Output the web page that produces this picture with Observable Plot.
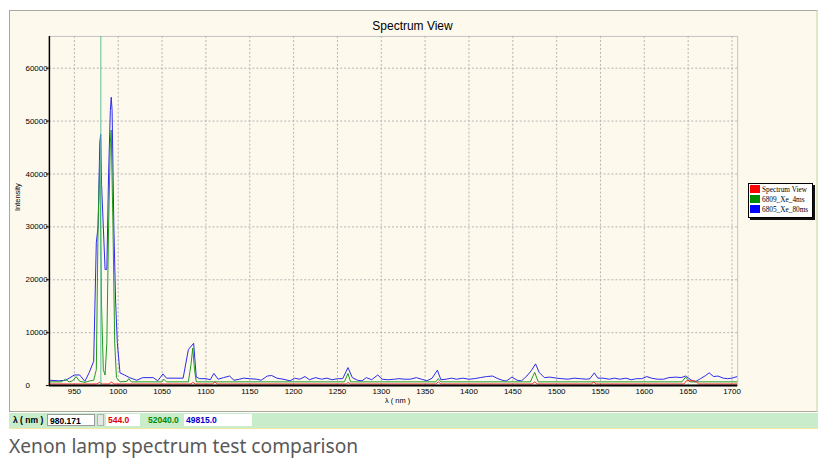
<!DOCTYPE html>
<html><head><meta charset="utf-8">
<script src="https://cdn.jsdelivr.net/npm/d3@7"></script>
<script src="https://cdn.jsdelivr.net/npm/@observablehq/plot@0.6"></script>
<style>
html,body{margin:0;padding:0;background:#fff;width:837px;height:470px;overflow:hidden;}
#frame{position:absolute;left:9px;top:10px;width:809px;height:402px;background:#fdf9ed;border:1px solid #a8a89c;border-right:2px solid #dde8c4;box-sizing:border-box;}
#chart{position:absolute;left:-1px;top:-1px;}
#legend{position:absolute;left:748px;top:183px;width:63px;height:33px;background:#fff;border:1px solid #000;box-shadow:2px 2px 0 #111;font:7.3px "Liberation Serif",serif;color:#000;}
#legend .row{position:absolute;left:1px;height:9px;line-height:9px;white-space:nowrap;}
#legend .sw{display:inline-block;width:10px;height:8px;vertical-align:top;margin-right:2px;}
#status{position:absolute;left:9px;top:413px;width:809px;height:15px;background:#c9eccb;border-bottom:1px solid #f3e7a4;font:bold 8.5px "Liberation Sans",Arial,sans-serif;}
#status div{position:absolute;top:1px;height:12px;line-height:12px;box-sizing:border-box;white-space:nowrap;}
#caption{position:absolute;left:9px;top:432px;font:19.2px "Noto Sans","Open Sans",sans-serif;color:#595959;white-space:nowrap;}
</style></head>
<body>
<div id="frame"><div id="chart"></div></div>
<div id="legend"></div>
<div id="status"></div>
<div id="caption"></div>
<script>
// ---- data ----
const chartTitle = "Spectrum View";
const yLabel = "Intensity";
const xLabel = "λ ( nm )";
const caption = "Xenon lamp spectrum test comparison";
const seriesNames = ["Spectrum View", "6809_Xe_4ms", "6805_Xe_80ms"];
const seriesColors = ["#ff0000", "#008c00", "#0000ff"];
const xTicks = [950,1000,1050,1100,1150,1200,1250,1300,1350,1400,1450,1500,1550,1600,1650,1700];
const yTicks = [0,10000,20000,30000,40000,50000,60000];
const cursorNm = 980.171;
const cursorValues = ["544.0", "52040.0", "49815.0"];

const blueNm = [922,932,940,945,950,956,962,967,972,975,977,979,980,981,983,985,987,989,991,992,993,995,997,999,1002,1007,1013,1021,1028,1040,1045,1051,1055,1074,1080,1086,1089,1093,1100,1105,1109,1114,1120,1127,1132,1138,1143,1150,1158,1163,1170,1175,1181,1188,1196,1201,1207,1213,1218,1225,1232,1238,1244,1250,1256,1262,1267,1273,1278,1283,1289,1296,1301,1308,1315,1320,1327,1333,1340,1346,1352,1358,1364,1368,1374,1380,1386,1393,1400,1406,1413,1420,1427,1433,1440,1443,1449,1455,1460,1466,1471,1476,1480,1486,1492,1500,1506,1513,1520,1527,1534,1538,1543,1547,1553,1560,1566,1572,1579,1585,1591,1597,1603,1608,1615,1622,1628,1636,1642,1647,1653,1658,1664,1670,1674,1679,1684,1690,1695,1700,1706];
const blueVal = [1000,900,1000,1500,2000,2000,800,2500,4600,27000,30000,46000,47500,38000,30000,21900,22000,40000,52000,54500,52000,30000,16000,8000,2400,2000,1500,1000,1500,1500,900,2200,1400,1400,6800,8000,1600,1300,1300,1100,2300,1200,1500,1800,1000,1200,1400,1300,1200,1000,1800,1900,1400,1200,900,1400,1200,1700,1100,1500,1200,1400,1100,1300,1300,3400,1500,1000,900,1500,1100,2000,1200,1100,1200,1300,1200,1200,1500,1200,900,1400,2900,1100,1200,1400,1200,1400,1200,1300,1500,1700,1800,1300,900,900,1600,1000,900,1800,2800,4100,2500,1500,1600,1400,1300,1200,1400,1300,1200,1300,2400,1400,1400,1200,1400,1200,1400,1100,1300,1300,1700,1400,1200,1200,1500,1600,1500,1800,1100,700,1300,1900,2400,1700,1800,1400,1300,1400,1700];

const greenNm = [922,935,940,944,948,952,956,962,968,972,975,977,979,981,983,985,987,989,991,992,994,996,998,1002,1010,1012,1015,1050,1052,1055,1080,1083,1085,1087,1089,1258,1262,1265,1362,1365,1368,1470,1475,1479,1643,1647,1652,1706];
const greenVal = [700,700,1200,700,900,1700,800,600,900,1000,3000,30000,42500,15000,3000,2000,8000,30000,46000,48300,30000,8000,1500,700,800,1300,700,700,1200,700,700,4000,7100,3000,700,700,2300,700,700,1300,700,700,2500,700,700,1600,700,700];

const redNm = [922,975,979,982,990,992,995,1083,1085,1088,1108,1110,1113,1260,1262,1265,1362,1365,1368,1472,1475,1478,1540,1542,1545,1645,1648,1658,1662,1706];
const redVal = [300,300,600,300,300,700,300,300,600,300,300,700,300,300,600,300,300,700,300,300,700,300,300,700,300,300,900,900,300,300];

// ---- build ----
const toRows = (nm, v) => nm.map((x, i) => ({nm: x, v: v[i]}));
const red = toRows(redNm, redVal), green = toRows(greenNm, greenVal), blue = toRows(blueNm, blueVal);
const xDom = [921.5, 1706.5];
const font = '"Liberation Sans", Arial, sans-serif';

const chart = Plot.plot({
  width: 809, height: 402,
  marginLeft: 40, marginRight: 79, marginTop: 26, marginBottom: 26,
  x: {domain: xDom},
  y: {domain: [0, 66000]},
  style: {background: "transparent", fontFamily: font, fontSize: "8px", color: "#000", overflow: "visible"},
  marks: [
    Plot.frame({stroke: "#c4c4c4"}),
    Plot.gridX(xTicks, {stroke: "#b4b4b4", strokeOpacity: 1, strokeDasharray: "2,2"}),
    Plot.gridY(yTicks, {stroke: "#b4b4b4", strokeOpacity: 1, strokeDasharray: "2,2"}),
    Plot.line(blue, {x: "nm", y: "v", stroke: "#2a2ae8", strokeWidth: 1, clip: true}),
    Plot.line(green, {x: "nm", y: "v", stroke: "#1f9a1f", strokeWidth: 1, clip: true}),
    Plot.line(red, {x: "nm", y: "v", stroke: "#ff2a2a", strokeWidth: 1, clip: true}),
    Plot.ruleX([cursorNm], {stroke: "#5cbf9c", strokeWidth: 1}),
    Plot.ruleX([xDom[0]], {stroke: "#000", strokeWidth: 1.5}),
    Plot.ruleY([0], {stroke: "#000", strokeWidth: 2}),
    Plot.axisY(yTicks, {tickSize: 3, tickFormat: () => "", label: null, stroke: "#000"}),
    Plot.text(yTicks, {y: d => d, text: d => String(d), frameAnchor: "left", dx: -24, textAnchor: "start", fontSize: 8, fill: "#000"}),
    Plot.axisX(xTicks, {tickSize: 1, tickPadding: 2, tickFormat: d => String(d), label: null, fontSize: 8, stroke: "#000", fill: "#000"}),
    Plot.text([chartTitle], {frameAnchor: "top", dy: -15, dx: 19, fontSize: 12, fill: "#000"}),
    Plot.text([yLabel], {frameAnchor: "left", dx: -32, rotate: -90, fontSize: 7.5, fill: "#000"}),
    Plot.text([xLabel], {frameAnchor: "bottom", dy: 17, dx: 4, fontSize: 7.5, fill: "#000"})
  ]
});
document.getElementById("chart").appendChild(chart);

// legend
const lg = document.getElementById("legend");
seriesNames.forEach((n, i) => {
  const r = document.createElement("div");
  r.className = "row";
  r.style.top = (1 + i * 10) + "px";
  r.innerHTML = `<span class="sw" style="background:${seriesColors[i]}"></span>${n}`;
  lg.appendChild(r);
});

// status bar
const st = document.getElementById("status");
const add = (left, width, text, style) => {
  const d = document.createElement("div");
  d.style.left = left + "px"; d.style.width = width + "px";
  d.textContent = text;
  Object.assign(d.style, style || {});
  st.appendChild(d);
};
add(4, 32, "λ ( nm )", {color: "#000"});
add(38, 48, String(cursorNm), {background: "#fff", border: "1px solid #9a9a9a", paddingLeft: "2px", color: "#000"});
add(88, 7, "", {background: "#e8e8e8", border: "1px solid #b0b0b0"});
add(97, 34, cursorValues[0], {background: "#fff", paddingLeft: "2px", color: "#e00000"});
add(137, 34, cursorValues[1], {paddingLeft: "2px", color: "#008800"});
add(175, 39, cursorValues[2], {background: "#fff", paddingLeft: "2px", color: "#0000cc"});
add(214, 29, "", {background: "#fff"});

document.getElementById("caption").textContent = caption;
</script>
</body></html>
